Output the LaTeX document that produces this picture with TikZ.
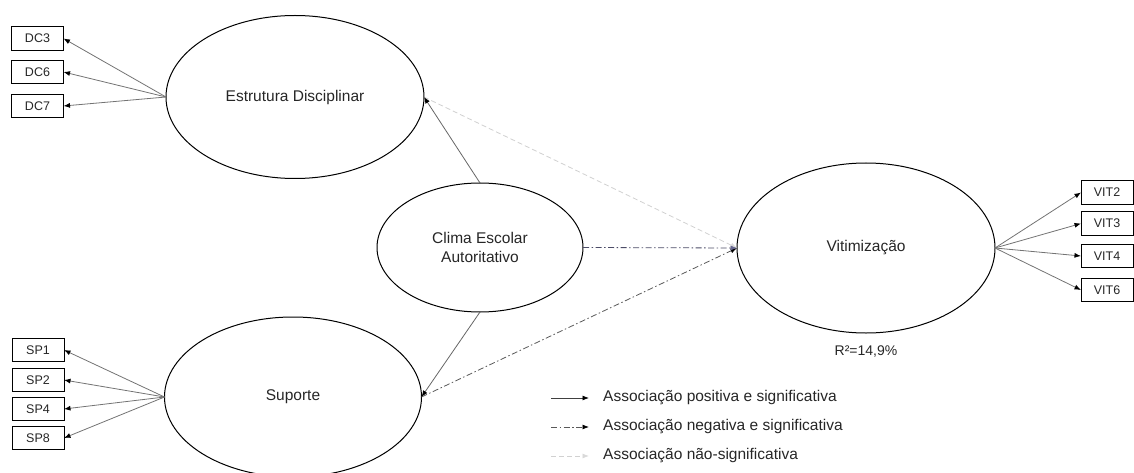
\documentclass[tikz,border=0pt]{standalone}
\usepackage{fontspec}
\setmainfont{Liberation Sans}
\usetikzlibrary{shapes.geometric,arrows.meta}
\begin{document}
\begin{tikzpicture}[x=1pt,y=-1pt,
  latent/.style={ellipse,draw=black,line width=1pt,inner sep=0pt,outer sep=0pt,align=center,text=black!85,font=\fontsize{15.5}{19}\selectfont},
  indicator/.style={rectangle,draw=black,line width=0.9pt,minimum width=52pt,minimum height=23.5pt,inner sep=0pt,outer sep=0pt,text=black!85,font=\fontsize{12.5}{15}\selectfont},
  tip/.style={-{Latex[length=6.5pt,width=5pt,color=black]}},
  loading/.style={tip,draw=black!55,line width=0.8pt},
  possig/.style={tip,draw=black!60,line width=0.8pt},
  negsig/.style={tip,draw=black!65,line width=0.8pt,dash pattern=on 6pt off 2.5pt on 1.5pt off 2.5pt},
  negsigblue/.style={-{Latex[length=6.5pt,width=5pt,color=black!20!blue!20!gray]},draw=blue!15!black!70,line width=0.8pt,dash pattern=on 6pt off 2.5pt on 1.5pt off 2.5pt},
  nonsig/.style={-{Latex[length=6.5pt,width=5pt,color=black!15]},draw=black!18,line width=0.8pt,dash pattern=on 5pt off 3pt},
  legtext/.style={anchor=west,inner sep=0pt,text=black!85,font=\fontsize{15.5}{19}\selectfont}
]
\useasboundingbox (0,0) rectangle (1134,473);

% latent variables
\node[latent,minimum width=258pt,minimum height=163pt] (est) at (295,97) {Estrutura Disciplinar};
\node[latent,minimum width=257pt,minimum height=160pt] (sup) at (293,397) {Suporte};
\node[latent,minimum width=206pt,minimum height=129pt] (cl) at (480,247.5) {Clima Escolar\\Autoritativo};
\node[latent,minimum width=258pt,minimum height=170pt] (vit) at (866,248) {Vitimização};

% indicators
\node[indicator] (dc3) at (37.5,38.5) {DC3};
\node[indicator] (dc6) at (37.5,72) {DC6};
\node[indicator] (dc7) at (37.5,106) {DC7};
\node[indicator] (sp1) at (38,350) {SP1};
\node[indicator] (sp2) at (38,380) {SP2};
\node[indicator] (sp4) at (38,409) {SP4};
\node[indicator] (sp8) at (38,438) {SP8};
\node[indicator] (vit2) at (1107,192.5) {VIT2};
\node[indicator] (vit3) at (1107,223.5) {VIT3};
\node[indicator] (vit4) at (1107,256) {VIT4};
\node[indicator] (vit6) at (1107,290) {VIT6};

% loadings
\foreach \t in {dc3,dc6,dc7} \draw[loading] (est.west) -- (\t.east);
\foreach \t in {sp1,sp2,sp4,sp8} \draw[loading] (sup.west) -- (\t.east);
\foreach \t in {vit2,vit3,vit4,vit6} \draw[loading] (vit.east) -- (\t.west);

% structural paths
\draw[nonsig] (est.east) -- (vit.west);
\draw[possig] (cl.north) -- (est.east);
\draw[possig] (cl.south) -- (sup.east);
\draw[negsig] (sup.east) -- (vit.west);
\draw[negsigblue] (cl.east) -- (vit.west);

% R2
\node[inner sep=0pt,text=black!85,font=\fontsize{14}{17}\selectfont] (r2) at (866,352) {R²=14,9\%};

% legend
\coordinate (la1) at (551,398); \coordinate (lb1) at (589,398);
\coordinate (la2) at (551,427); \coordinate (lb2) at (589,427);
\coordinate (la3) at (551,456); \coordinate (lb3) at (589,456);
\draw[possig,draw=black!75] (la1) -- (lb1);
\draw[negsig] (la2) -- (lb2);
\draw[nonsig] (la3) -- (lb3);
\node[legtext] (lt1) at (603,398) {Associação positiva e significativa};
\node[legtext] (lt2) at (603,427) {Associação negativa e significativa};
\node[legtext] (lt3) at (603,456) {Associação não-significativa};
\end{tikzpicture}
\end{document}
